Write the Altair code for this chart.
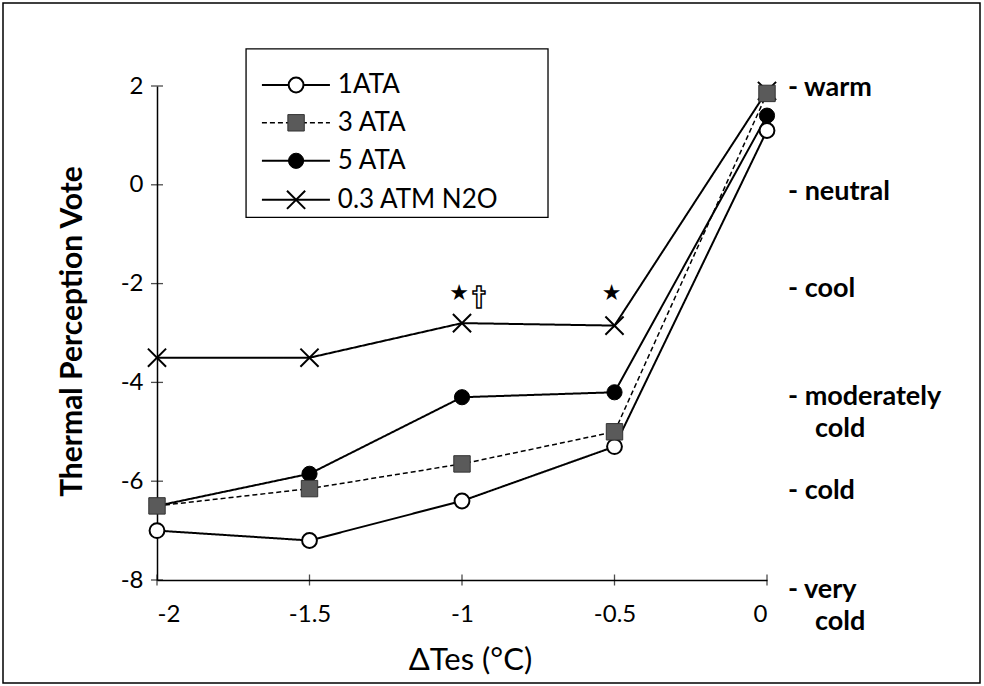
import altair as alt
import pandas as pd

# ---------------- data ----------------
dtes = [-2.0, -1.5, -1.0, -0.5, 0.0]
ata1 = [-7.0, -7.2, -6.4, -5.3, 1.1]
ata3 = [-6.5, -6.15, -5.65, -5.0, 1.85]
ata5 = [-6.5, -5.85, -4.3, -4.2, 1.4]
n2o = [-3.5, -3.5, -2.8, -2.85, 1.9]
series_names = ["1ATA", "3 ATA", "5 ATA", "0.3 ATM N2O"]
series_values = [ata1, ata3, ata5, n2o]

y_ticks = [-8, -6, -4, -2, 0, 2]
x_ticks = [-2, -1.5, -1, -0.5, 0]

scale_labels = ["- warm", "- neutral", "- cool", "- moderately", "- cold", "- very"]
scale_label_y = [1.95, -0.15, -2.1, -4.3, -6.2, -8.2]
cont_labels = ["cold", "cold"]
cont_label_y = [-4.95, -8.85]

star_x = [-1.0, -0.5]
star_y = [-2.2, -2.2]
dagger_x = [-1.0]
dagger_y = [-2.3]

# legend placement (in axis units)
legend_rows_y = [2.02, 1.255, 0.486, -0.304]
legend_box = dict(x=-1.708, x2=-0.718, y=2.75, y2=-0.66)
legend_line_x = (-1.656, -1.433)
legend_mark_x = -1.544
legend_text_x = -1.407

FONT = "Lato"

styles = {
    "1ATA": dict(shape="circle", filled=True, fill="white", stroke="black", size=220,
                 sw=2, dash=[1, 0], lw=2),
    "3 ATA": dict(shape="square", filled=True, fill="#5a5a5a", stroke="#333333", size=270,
                  sw=1, dash=[5, 3], lw=1.5),
    "5 ATA": dict(shape="circle", filled=True, fill="black", stroke="black", size=230,
                  sw=1, dash=[1, 0], lw=2),
    "0.3 ATM N2O": dict(shape="M-1,-1L1,1M-1,1L1,-1", filled=False, fill=None, stroke="black",
                        size=330, sw=2, dash=[1, 0], lw=2),
}

xscale = alt.Scale(domain=[-2, 0], nice=False, zero=False)
yscale = alt.Scale(domain=[-8, 2], nice=False, zero=False)

X = alt.X(
    "x:Q", scale=xscale,
    axis=alt.Axis(values=x_ticks, labelExpr="'' + datum.value", ticks=False, tickSize=0,
                  grid=False, domainColor="black", domainWidth=1.5,
                  labelFont=FONT, labelFontSize=24, labelColor="black", labelPadding=22,
                  title="ΔTes (°C)", titleFont=FONT, titleFontSize=31, titleFontWeight="normal",
                  titleColor="black", titleX=313, titleY=80, titleBaseline="middle",
                  titleAlign="center"),
)
Y = alt.Y(
    "y:Q", scale=yscale,
    axis=alt.Axis(values=y_ticks, labelExpr="'' + datum.value", ticks=False, tickSize=0,
                  grid=False, domainColor="black", domainWidth=1.5,
                  labelFont=FONT, labelFontSize=24, labelColor="black", labelPadding=14,
                  title="Thermal Perception Vote", titleFont=FONT, titleFontSize=30,
                  titleFontWeight="bold", titleColor="black", titleX=-85, titleY=245,
                  titleBaseline="middle", titleAlign="center", titleAngle=-90),
)

layers = []

# tick marks crossing the axes
ytick_df = pd.DataFrame({"x": [-2.0] * len(y_ticks), "y": y_ticks})
xtick_df = pd.DataFrame({"x": x_ticks, "y": [-8.0] * len(x_ticks)})
layers.append(alt.Chart(ytick_df).mark_tick(orient="horizontal", size=12, thickness=1.3,
                                            color="black").encode(x=X, y=Y))
layers.append(alt.Chart(xtick_df).mark_tick(orient="vertical", size=11, thickness=1.3,
                                            color="black").encode(x=X, y=Y))

# lines
for name, vals in zip(series_names, series_values):
    st = styles[name]
    df = pd.DataFrame({"x": dtes, "y": vals})
    layers.append(alt.Chart(df).mark_line(color="black", strokeWidth=st["lw"],
                                          strokeDash=st["dash"]).encode(x=X, y=Y))


def point_mark(st):
    kw = dict(shape=st["shape"], filled=st["filled"], stroke=st["stroke"], size=st["size"],
              strokeWidth=st["sw"], opacity=1)
    if st["fill"] is not None:
        kw["fill"] = st["fill"]
    return kw


# points, drawn so that the squares sit on top
for name in ["0.3 ATM N2O", "5 ATA", "1ATA", "3 ATA"]:
    st = styles[name]
    vals = series_values[series_names.index(name)]
    df = pd.DataFrame({"x": dtes, "y": vals})
    layers.append(alt.Chart(df).mark_point(**point_mark(st)).encode(x=X, y=Y))

# significance annotations
star_df = pd.DataFrame({"x": star_x, "y": star_y, "t": ["★"] * len(star_x)})
layers.append(alt.Chart(star_df).mark_text(font="DejaVu Sans", fontSize=22, color="black",
                                           align="center", baseline="middle", dx=-3)
              .encode(x=X, y=Y, text="t:N"))
dag_df = pd.DataFrame({"x": dagger_x, "y": dagger_y, "t": ["†"] * len(dagger_x)})
layers.append(alt.Chart(dag_df).mark_text(font="DejaVu Sans", fontSize=27, fontWeight="bold",
                                          fill="white", stroke="black", strokeWidth=1.5,
                                          align="center", baseline="middle", dx=17)
              .encode(x=X, y=Y, text="t:N"))

# right-hand verbal scale
lab_df = pd.DataFrame({"x": [0.0] * len(scale_labels), "y": scale_label_y, "t": scale_labels})
cont_df = pd.DataFrame({"x": [0.0] * len(cont_labels), "y": cont_label_y, "t": cont_labels})
layers.append(alt.Chart(lab_df).mark_text(font=FONT, fontSize=27, fontWeight="bold",
                                          color="black", align="left", baseline="middle", dx=21)
              .encode(x=X, y=Y, text="t:N"))
layers.append(alt.Chart(cont_df).mark_text(font=FONT, fontSize=27, fontWeight="bold",
                                           color="black", align="left", baseline="middle", dx=48)
              .encode(x=X, y=Y, text="t:N"))

# legend box
box_df = pd.DataFrame([legend_box])
layers.append(alt.Chart(box_df).mark_rect(fillOpacity=0, stroke="black", strokeWidth=1.3)
              .encode(x=X, x2="x2:Q", y=Y, y2="y2:Q"))

for i, name in enumerate(series_names):
    st = styles[name]
    ly = legend_rows_y[i]
    ldf = pd.DataFrame({"x": [legend_line_x[0]], "x2": [legend_line_x[1]], "y": [ly]})
    layers.append(alt.Chart(ldf).mark_rule(color="black", strokeWidth=st["lw"],
                                           strokeDash=st["dash"])
                  .encode(x=X, x2="x2:Q", y=Y))
    pdf = pd.DataFrame({"x": [legend_mark_x], "y": [ly]})
    layers.append(alt.Chart(pdf).mark_point(**point_mark(st)).encode(x=X, y=Y))
    tdf = pd.DataFrame({"x": [legend_text_x], "y": [ly], "t": [name]})
    layers.append(alt.Chart(tdf).mark_text(font=FONT, fontSize=26, color="black",
                                           align="left", baseline="middle")
                  .encode(x=X, y=Y, text="t:N"))

# outer frame of the figure
frame_df = pd.DataFrame({"x": [0.0]})
layers.append(alt.Chart(frame_df).mark_rect(fillOpacity=0, stroke="black", strokeWidth=1.5)
              .encode(x=alt.value(-154), x2=alt.value(823), y=alt.value(-83),
                      y2=alt.value(597)))

chart = (
    alt.layer(*layers)
    .properties(width=610, height=494,
                autosize=alt.AutoSizeParams(type="none"),
                padding={"left": 157, "top": 86, "right": 217, "bottom": 106},
                background="white")
    .configure_view(stroke=None)
)

chart.save("out.html", embed_options={"renderer": "svg", "actions": False})
